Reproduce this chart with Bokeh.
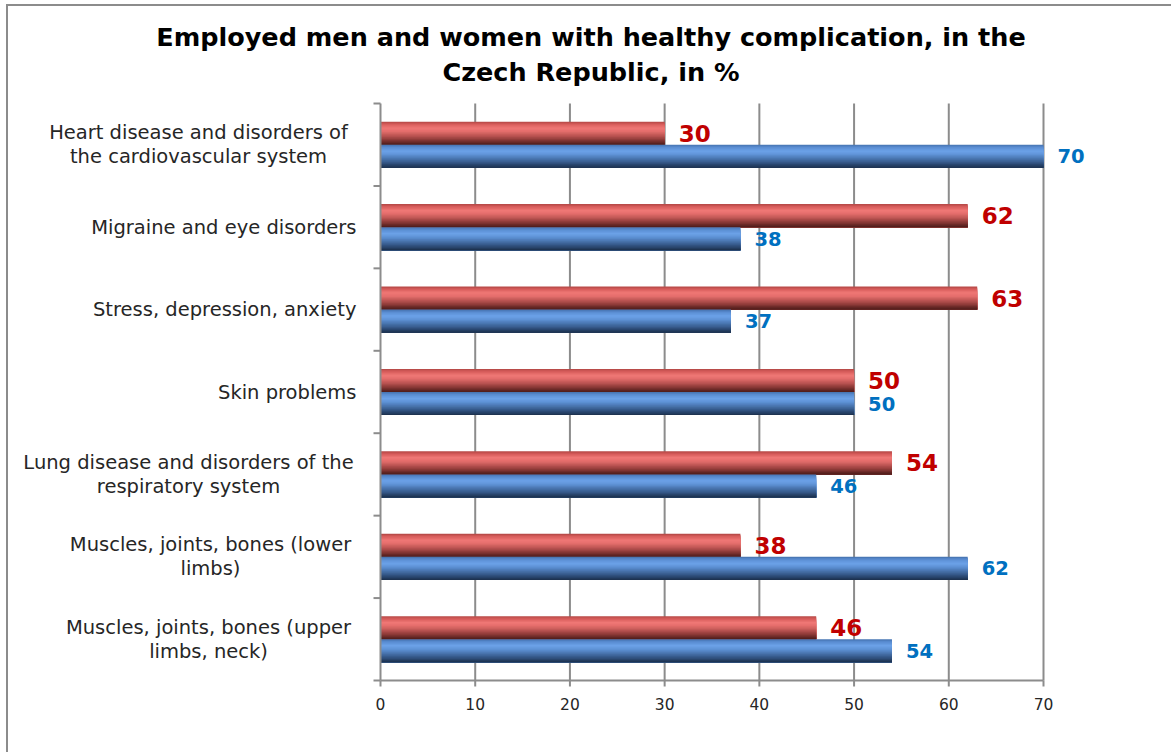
import numpy as np
from bokeh.plotting import figure
from bokeh.models import Range1d, ColumnDataSource
from bokeh.core.properties import value
from bokeh.embed import file_html
from bokeh.resources import INLINE

# ---------------- data (top to bottom) ----------------
categories = [
    "Heart disease and disorders of\nthe cardiovascular system",
    "Migraine and eye disorders",
    "Stress, depression, anxiety",
    "Skin problems",
    "Lung disease and disorders of the\nrespiratory system",
    "Muscles, joints, bones (lower\nlimbs)",
    "Muscles, joints, bones (upper\nlimbs, neck)",
]
red_values = [30, 62, 63, 50, 54, 38, 46]
blue_values = [70, 38, 37, 50, 46, 62, 54]
x_ticks = [0, 10, 20, 30, 40, 50, 60, 70]
title_lines = ["Employed men and women with healthy complication, in the",
               "Czech Republic, in %"]

# ---------------- layout (page pixels) ----------------
n = len(categories)
W, H = 1165, 748               # canvas size
CX0, CY0 = 8, 6                # canvas top-left on the page
PX_X0, PX_X1 = 380.0, 1043.0   # page x of first / last x tick
PY_TOP, PY_BOT = 103.0, 680.0  # page y of the plot top / x axis
XMIN, XMAX = x_ticks[0], x_ticks[-1]
ux = (PX_X1 - PX_X0) / (XMAX - XMIN)   # px per x unit
uy = (PY_BOT - PY_TOP) / n             # px per category

def dx(px):   # page x -> data x
    return XMIN + (px - PX_X0) / ux

def dy(py):   # page y -> data y
    return (PY_BOT - py) / uy

BAR_H = 0.28
STRIPS = 20

red_stops = [(0.0, "#b04644"), (0.1, "#d45a58"), (0.28, "#f07876"), (0.42, "#e46e6c"),
             (0.6, "#be5654"), (0.78, "#8e3a38"), (0.92, "#622624"), (1.0, "#4c1c1a")]
blue_stops = [(0.0, "#4470ac"), (0.1, "#588bd0"), (0.28, "#6ca2e8"), (0.42, "#6094d8"),
              (0.6, "#4a76b0"), (0.78, "#345686"), (0.92, "#243d60"), (1.0, "#1c2e4a")]

def hex2rgb(h):
    return np.array([int(h[i:i + 2], 16) for i in (1, 3, 5)], dtype=float)

def interp_color(stops, t):
    for (t0, c0), (t1, c1) in zip(stops[:-1], stops[1:]):
        if t0 <= t <= t1:
            f = (t - t0) / (t1 - t0) if t1 > t0 else 0
            c = hex2rgb(c0) * (1 - f) + hex2rgb(c1) * f
            return "#%02x%02x%02x" % tuple(int(round(v)) for v in c)
    return stops[-1][1]

y_centers = [n - i - 0.5 for i in range(n)]

def strips(values, tops, stops):
    # each strip runs from its own top edge down to the bar bottom; drawn in order
    ys, hs, rights, cols = [], [], [], []
    for v, top in zip(values, tops):
        bottom = top - BAR_H
        for k in range(STRIPS):
            s_top = top - k * BAR_H / STRIPS
            ys.append((s_top + bottom) / 2)
            hs.append(s_top - bottom)
            rights.append(v)
            cols.append(interp_color(stops, (k + 0.5) / STRIPS))
    return dict(y=ys, h=hs, right=rights, color=cols)

# ---------------- figure (frame = whole canvas) ----------------
p = figure(width=W, height=H, output_backend="svg", toolbar_location=None,
           x_range=Range1d(dx(CX0), dx(CX0 + W)), y_range=Range1d(dy(CY0 + H), dy(CY0)),
           min_border=0, min_border_left=0, min_border_right=0,
           min_border_top=0, min_border_bottom=0)
p.styles = {"margin-left": "6px", "margin-top": "4px",
            "border-left": "2px solid #8c8c8c", "border-top": "2px solid #8c8c8c"}
p.title.visible = False
p.xaxis.visible = False
p.yaxis.visible = False
p.xgrid.visible = False
p.ygrid.visible = False
p.outline_line_color = None
p.background_fill_color = "white"
p.border_fill_color = "white"

AX = "#8c8c8c"
# vertical gridlines
p.segment(x0=x_ticks[1:], y0=0, x1=x_ticks[1:], y1=n, line_color=AX, line_width=2)

# bars (cylinder-like shading built from stacked strips)
red_src = ColumnDataSource(strips(red_values, [yc + BAR_H for yc in y_centers], red_stops))
blue_src = ColumnDataSource(strips(blue_values, y_centers, blue_stops))
for src in (red_src, blue_src):
    p.hbar(y="y", left=XMIN, right="right", height="h", color="color",
           line_color=None, source=src)

# y axis: line + outward ticks at category boundaries
bounds = list(range(n + 1))
p.segment(x0=XMIN, y0=0, x1=XMIN, y1=n, line_color=AX, line_width=2)
p.segment(x0=XMIN, y0=bounds, x1=XMIN - 7 / ux, y1=bounds, line_color=AX, line_width=2)

# x axis: line + outward ticks + tick labels
p.segment(x0=XMIN, y0=0, x1=XMAX, y1=0, line_color=AX, line_width=2)
p.segment(x0=x_ticks, y0=0, x1=x_ticks, y1=-6 / uy, line_color=AX, line_width=2)
p.text(x=x_ticks, y=[dy(703)] * len(x_ticks), text=[str(t) for t in x_ticks],
       text_align="center", text_baseline="middle", text_font=value("DejaVu Sans"),
       text_font_size="15.5px", text_color="#262626")

# category labels
label_centers_px = [198, None, None, None, 188, 210, 208]
single = dict(x=[], y=[], t=[])
multi = dict(x=[], y=[], t=[])
for cat, yc, cx in zip(categories, y_centers, label_centers_px):
    if cx is None:
        single["x"].append(dx(356)); single["y"].append(yc); single["t"].append(cat)
    else:
        multi["x"].append(dx(cx)); multi["y"].append(yc); multi["t"].append(cat)
p.text(x="x", y="y", text="t", source=ColumnDataSource(single), text_align="right",
       text_baseline="middle", text_font=value("DejaVu Sans"), text_font_size="19.5px",
       text_color="#262626")
p.text(x="x", y="y", text="t", source=ColumnDataSource(multi), text_align="center",
       text_baseline="middle", text_font=value("DejaVu Sans"), text_font_size="19.5px",
       text_color="#262626", text_line_height=1.05)

# data labels
p.text(x=red_values, y=[yc + BAR_H / 2 for yc in y_centers], text=[str(v) for v in red_values],
       x_offset=14, text_baseline="middle", text_font=value("DejaVu Sans"),
       text_font_style="bold", text_font_size="23px", text_color="#c00000")
p.text(x=blue_values, y=[yc - BAR_H / 2 for yc in y_centers], text=[str(v) for v in blue_values],
       x_offset=14, text_baseline="middle", text_font=value("DejaVu Sans"),
       text_font_style="bold", text_font_size="19.5px", text_color="#0070c0")

# title (centred on the canvas)
title_cx = (dx(CX0) + dx(CX0 + W)) / 2
p.text(x=[title_cx] * len(title_lines), y=[dy(36), dy(71)], text=title_lines,
       text_align="center", text_baseline="middle", text_font=value("DejaVu Sans"),
       text_font_style="bold", text_font_size="25.5px", text_color="#000000")

open("out.html", "w").write(file_html(p, INLINE))
